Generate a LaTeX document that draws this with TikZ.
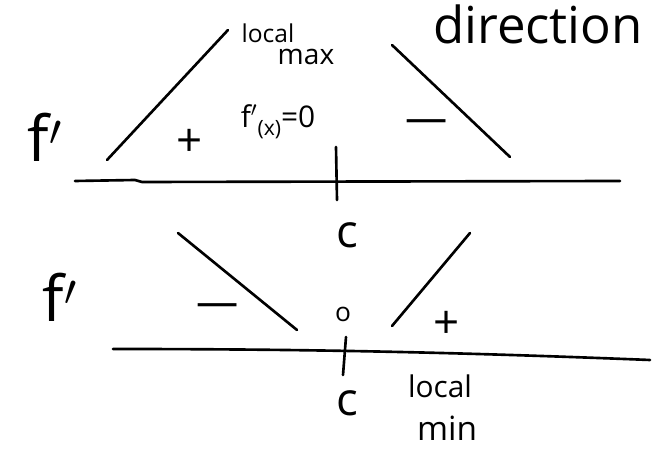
\documentclass[tikz,border=0pt]{standalone}
\usepackage{fontspec}
\setmainfont{Open Sans}
\tikzset{
  stroke/.style={line width=1.5pt,line cap=round,line join=round},
  big/.style={font=\fontsize{36}{36}\selectfont,inner sep=0pt},
  mid/.style={font=\fontsize{26}{26}\selectfont,inner sep=0pt},
  small/.style={font=\fontsize{14}{14}\selectfont,inner sep=0pt}
}
\begin{document}
\begin{tikzpicture}[x=0.02cm,y=-0.02cm]
  \useasboundingbox (0,0) rectangle (653,465);
  % top: local max
  \draw[stroke] (107,160) -- (228,30);
  \draw[stroke] (392,45) -- (510,157);
  \draw[stroke] (75,181) -- (135,180) -- (142,182) -- (620,181);
  \draw[stroke] (336,147) -- (337,200);
  \node[big] (fa) at (45,137) {f$'$};
  \node[mid] (pa) at (190,143) {+};
  \node[font=\fontsize{24}{24}\selectfont,inner sep=0pt] (ma) at (427,126) {—};
  \node[font=\fontsize{17}{17}\selectfont,inner sep=0pt] (za) at (278,122) {f$'$\raisebox{-0.5ex}{\fontsize{12}{12}\selectfont(x)}=0};
  \node[small] (la) at (268,33) {local};
  \node[font=\fontsize{16}{16}\selectfont,inner sep=0pt] (xa) at (306,57) {max};
  \node[font=\fontsize{29}{29}\selectfont,inner sep=0pt] (dir) at (538,24) {direction};
  \node[mid] (ca) at (347,235) {c};
  % bottom: local min
  \draw[stroke] (178,233) -- (297,330);
  \draw[stroke] (392,326) -- (470,233);
  \draw[stroke] (113,349) .. controls (300,349) and (450,352) .. (650,360);
  \draw[stroke] (346,337) -- (343,375);
  \node[big] (fb) at (60,297) {f$'$};
  \node[font=\fontsize{24}{24}\selectfont,inner sep=0pt] (mb) at (218,310) {—};
  \node[font=\fontsize{15}{15}\selectfont,inner sep=0pt] (zb) at (343,314) {o};
  \node[mid] (pb) at (447,325) {+};
  \node[mid] (cb) at (347,403) {c};
  \node[font=\fontsize{17}{17}\selectfont,inner sep=0pt] (lb) at (440,386) {local};
  \node[font=\fontsize{19}{19}\selectfont,inner sep=0pt] (nb) at (447,428) {min};
\end{tikzpicture}
\end{document}
